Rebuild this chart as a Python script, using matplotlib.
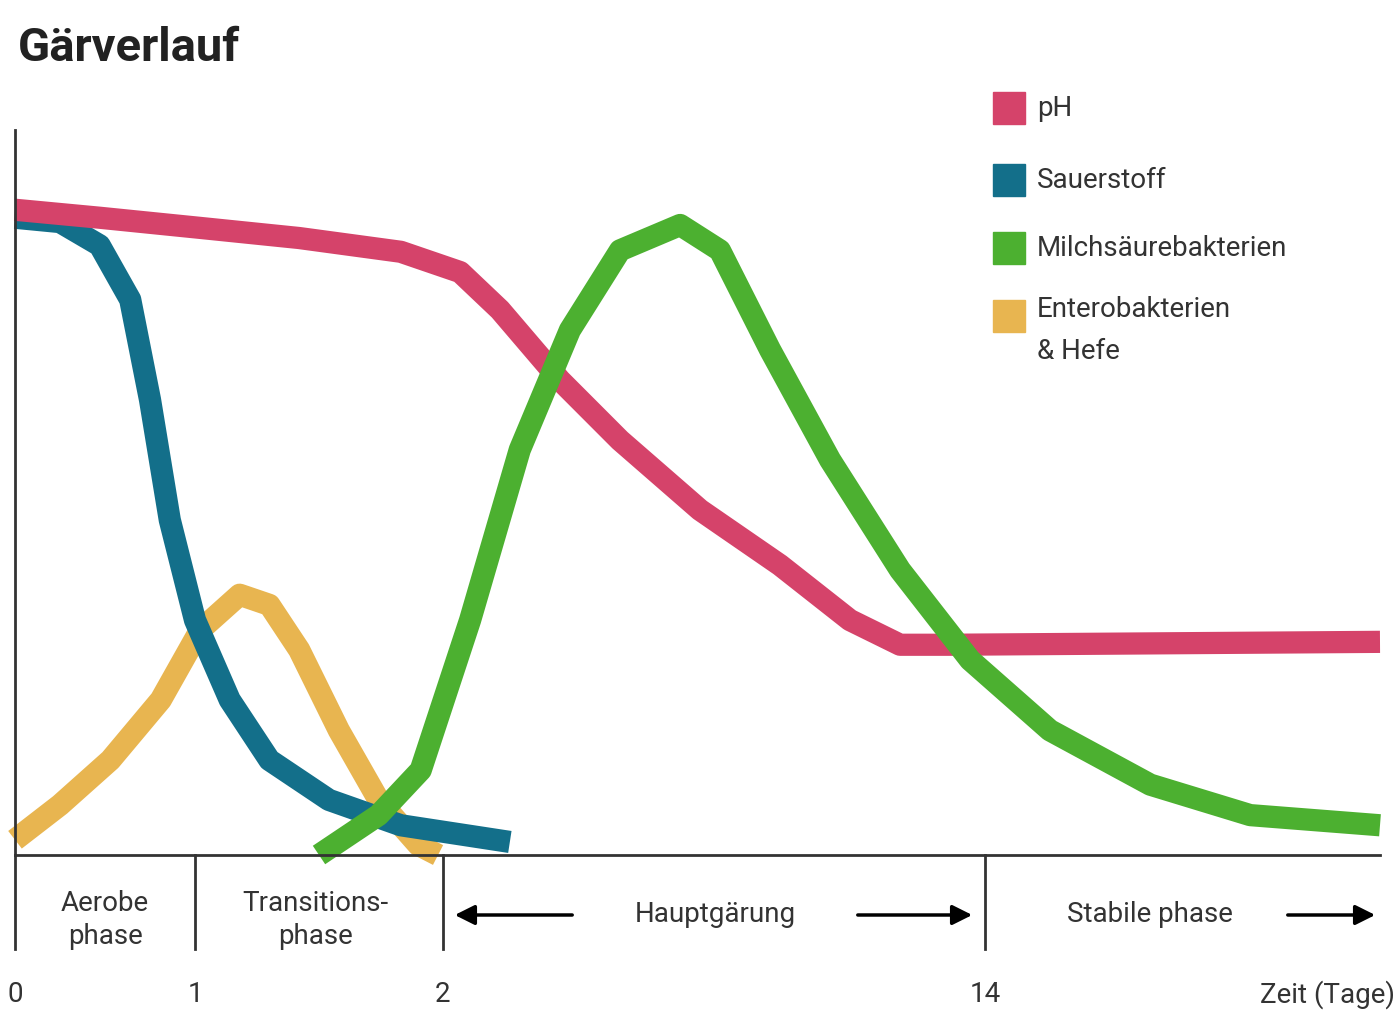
import matplotlib
matplotlib.use("Agg")
import matplotlib.pyplot as plt
import numpy as np

# day positions -> layout position (axis is not linear in time)
TICK_DAYS = [0, 1, 2, 14, 21]
TICK_POS = [15, 195, 443, 985, 1380]

ph_x = [0, 0.47, 1.02, 1.42, 1.83, 2.38, 3.26, 4.59, 5.92, 7.69, 9.46, 11.01, 12.12, 13.23, 21]
ph_y = [89, 87.9, 86.5, 85.1, 83.2, 80.4, 75.2, 65.5, 57.2, 47.6, 40, 32.4, 29, 29, 29.4]
o2_x = [0, 0.25, 0.47, 0.64, 0.75, 0.86, 1.0, 1.14, 1.3, 1.54, 1.83, 3.48]
o2_y = [87.9, 87.3, 84.1, 76.6, 62.8, 46.2, 32.4, 21.4, 13.1, 7.6, 4.1, 1.8]
lab_x = [1.5, 1.74, 1.91, 2.6, 3.7, 4.81, 5.92, 7.25, 8.13, 9.24, 10.57, 12.12, 13.67, 15.15, 16.93, 18.7, 21]
lab_y = [0, 5.5, 11.7, 32.4, 55.9, 72.4, 83.4, 86.9, 83.4, 69.7, 54.5, 39.3, 26.9, 17.2, 9.7, 5.5, 4.1]
ent_x = [0, 0.25, 0.53, 0.81, 1.02, 1.18, 1.3, 1.42, 1.58, 1.74, 1.9, 1.98]
ent_y = [2.1, 6.9, 13.1, 21.4, 31, 35.9, 34.5, 28.3, 17.2, 7.6, 1.4, 0]

SERIES = [
    ("pH", ph_x, ph_y, "#d5436a"),
    ("Sauerstoff", o2_x, o2_y, "#136f8a"),
    ("Milchsäurebakterien", lab_x, lab_y, "#4cb030"),
    ("Enterobakterien\n& Hefe", ent_x, ent_y, "#e8b550"),
]
DRAW_ORDER = [3, 1, 0, 2]

FONT = "Roboto"
GREY = "#333333"

fig = plt.figure(figsize=(14, 10.26), dpi=100)
W, H = 1400, 1026
ax = fig.add_axes([15 / W, 1 - 855 / H, 1365 / W, 725 / H])


def fwd(d):
    return np.interp(d, TICK_DAYS, TICK_POS)


def inv(p):
    return np.interp(p, TICK_POS, TICK_DAYS)


ax.set_xscale("function", functions=(fwd, inv))
ax.set_xlim(0, 21)
ax.set_ylim(0, 100)

for i in DRAW_ORDER:
    name, xs, ys, c = SERIES[i]
    ax.plot(xs, ys, color=c, lw=16, solid_capstyle="butt", solid_joinstyle="round", clip_on=False)

for s in ["top", "right"]:
    ax.spines[s].set_visible(False)
for s in ["left", "bottom"]:
    ax.spines[s].set_color(GREY)
    ax.spines[s].set_linewidth(2)
ax.set_xticks([])
ax.set_yticks([])

# phase dividers below the axis
for d in [0, 1, 2, 14]:
    ax.plot([d, d], [0, -13], color=GREY, lw=2, clip_on=False)


def ft(x, y, s, color=GREY, **kw):
    fig.text(x / W, 1 - y / H, s, family=FONT, color=color, **kw)


ft(105, 920, "Aerobe\nphase", fontsize=20, ha="center", va="center", linespacing=1.3)
ft(315, 920, "Transitions-\nphase", fontsize=20, ha="center", va="center", linespacing=1.3)
ft(715, 915, "Hauptgärung", fontsize=20, ha="center", va="center")
ft(1150, 915, "Stabile phase", fontsize=20, ha="center", va="center")
ft(1395, 995, "Zeit (Tage)", fontsize=20, ha="right", va="center")
for d, lbl in zip(TICK_DAYS[:4], ["0", "1", "2", "14"]):
    ft(fwd(d), 995, lbl, fontsize=20, ha="center", va="center")

arrow = dict(arrowstyle="-|>", color="black", lw=2.5, mutation_scale=30)
for x0, x1 in [(575, 452), (855, 975), (1285, 1378)]:
    fig.add_artist(matplotlib.patches.FancyArrowPatch(
        (x0 / W, 1 - 915 / H), (x1 / W, 1 - 915 / H), transform=fig.transFigure, **arrow))

ft(18, 48, "Gärverlauf", color="#222222", fontsize=34, fontweight="bold", ha="left", va="center")

for (name, _, _, c), y in zip(SERIES, [108, 180, 248, 316]):
    fig.add_artist(matplotlib.patches.Rectangle(
        (993 / W, 1 - (y + 16) / H), 32 / W, 32 / H, transform=fig.transFigure, color=c))
    if "\n" in name:
        ft(1037, y - 20, name, fontsize=20, ha="left", va="top", linespacing=1.7)
    else:
        ft(1037, y, name, fontsize=20, ha="left", va="center")

fig.savefig("out.png", dpi=100)
